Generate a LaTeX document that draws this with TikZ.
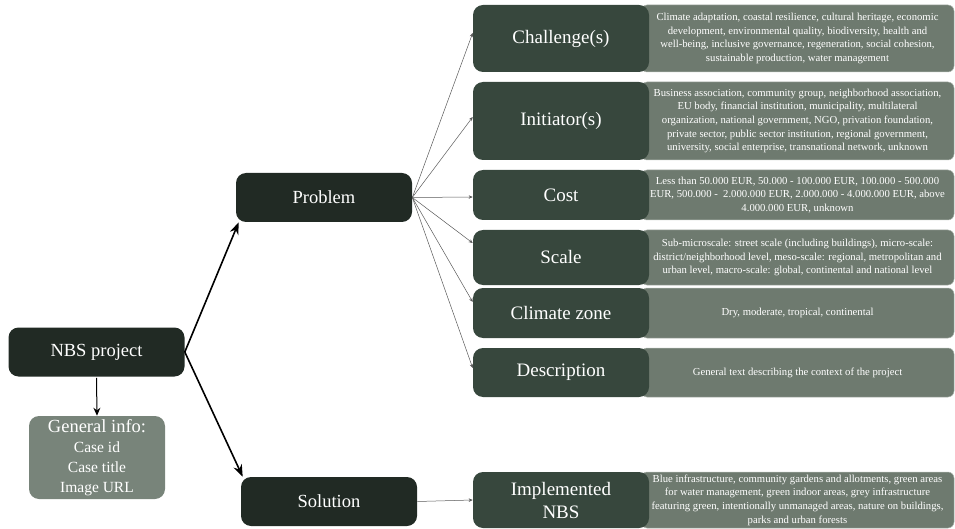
\documentclass[tikz,border=0pt]{standalone}
\usepackage{fontspec}
\setmainfont{Liberation Serif}
\usetikzlibrary{arrows.meta}
\definecolor{rootgreen}{HTML}{212A24}
\definecolor{fieldgreen}{HTML}{37473D}
\definecolor{valuegrey}{HTML}{6E7A6F}
\definecolor{infogrey}{HTML}{78847A}

\begin{document}
\begin{tikzpicture}[x=1pt,y=-1pt,>={Stealth[length=4pt,width=3.5pt]},
                    semithick]
  \tikzstyle{root}=[rectangle,rounded corners=10pt,fill=rootgreen,text=white,
    inner sep=0pt,minimum width=176pt,minimum height=49pt,
    font=\fontsize{18.5}{22}\selectfont]
  \tikzstyle{field}=[root,fill=fieldgreen,align=center,
    font=\fontsize{19}{23}\selectfont]
  \tikzstyle{values}=[rectangle,rounded corners=6pt,fill=valuegrey,
    draw=valuegrey!55!white,line width=0.5pt,text=white,inner sep=0pt,
    minimum width=313pt,align=center,font=\fontsize{10.7}{13.7}\selectfont]
  \tikzstyle{thin}=[->,gray!70!black,line width=0.5pt]
  \tikzstyle{thick}=[-{Stealth[length=12pt,width=9pt]},black,line width=1.6pt]

  \useasboundingbox (0,0) rectangle (955,529);

  \node[root] (nbs) at (96.5,352) {NBS project};
  \node[root,fill=infogrey,minimum width=136pt,minimum height=83pt,
        align=center] (info) at (97,457.5)
        {General info:\\[-2pt]{\fontsize{15.5}{19}\selectfont Case id}\\[-2pt]
         {\fontsize{15.5}{19}\selectfont Case title}\\[-2pt]
         {\fontsize{15.5}{19}\selectfont Image URL}};
  \node[root] (pb) at (324,197.5) {Problem};
  \node[root] (sol) at (329,501.5) {Solution};

  % value boxes first, field boxes on top
  \node[values,minimum height=67pt] (ch-v) at (797.5,38.5)
    {Climate adaptation, coastal resilience, cultural heritage, economic\\
     development, environmental quality, biodiversity, health and\\
     well-being, inclusive governance, regeneration, social cohesion,\\
     sustainable production, water management};
  \node[values,minimum height=78pt] (in-v) at (797.5,121)
    {Business association, community group, neighborhood association,\\
     EU body, financial institution, municipality, multilateral\\
     organization, national government, NGO, privation foundation,\\
     private sector, public sector institution, regional government,\\
     university, social enterprise, transnational network, unknown};
  \node[values,minimum height=50pt] (co-v) at (797.5,195)
    {Less than 50.000 EUR, 50.000 - 100.000 EUR, 100.000 - 500.000\\
     EUR, 500.000 -\ \ 2.000.000 EUR, 2.000.000 - 4.000.000 EUR, above\\
     4.000.000 EUR, unknown};
  \node[values,minimum height=55pt] (sc-v) at (797.5,257.5)
    {Sub-microscale: street scale (including buildings), micro-scale:\\
     district/neighborhood level, meso-scale: regional, metropolitan and\\
     urban level, macro-scale: global, continental and national level};
  \node[values,minimum height=50pt] (cz-v) at (797.5,313)
    {Dry, moderate, tropical, continental};
  \node[values,minimum height=49pt] (de-v) at (797.5,372.5)
    {General text describing the context of the project};
  \node[values,minimum height=56pt] (im-v) at (797.5,500)
    {Blue infrastructure, community gardens and allotments, green areas\\
     for water management, green indoor areas, grey infrastructure\\
     featuring green, intentionally unmanaged areas, nature on buildings,\\
     parks and urban forests};

  \node[field,minimum height=67pt] (ch) at (561,38.5) {Challenge(s)};
  \node[field,minimum height=78pt] (in) at (561,121) {Initiator(s)};
  \node[field,minimum height=50pt] (co) at (561,195) {Cost};
  \node[field,minimum height=55pt] (sc) at (561,257.5) {Scale};
  \node[field,minimum height=50pt] (cz) at (561,313) {Climate zone};
  \node[field,minimum height=49pt] (de) at (561,372.5) {Description};
  \node[field,minimum height=56pt] (im) at (561,500) {Implemented\\NBS};

  \draw[->,line width=1pt,-{Stealth[length=8pt,width=7pt]}]
    ([yshift=-1pt]nbs.south) -- (info.north);
  \draw[thick] (nbs.east) -- ([xshift=3pt]pb.south west);
  \draw[thick] (nbs.east) -- ([xshift=2pt]sol.north west);

  \foreach \f/\dy in {ch/5.5,in/4,co/-2,sc/14.5,cz/11,de/4.5}
    \draw[thin] (pb.east) -- ([yshift=\dy pt]\f.west);
  \draw[thin] (sol.east) -- (im.west);
\end{tikzpicture}
\end{document}
